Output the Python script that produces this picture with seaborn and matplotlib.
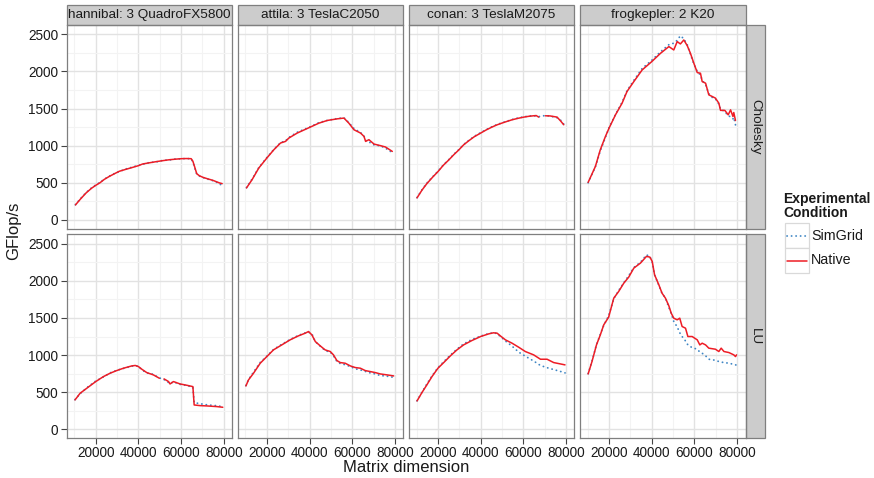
import numpy as np
import pandas as pd
import matplotlib
matplotlib.use("Agg")
import matplotlib.pyplot as plt
import seaborn as sns
from matplotlib.patches import Rectangle
from matplotlib.lines import Line2D

# -------- Data --------
machines = ["hannibal: 3 QuadroFX5800", "attila: 3 TeslaC2050",
            "conan: 3 TeslaM2075", "frogkepler: 2 K20"]
algos = ["Cholesky", "LU"]
conditions = ["SimGrid", "Native"]
x_ticks = [20000, 40000, 60000, 80000]
y_ticks = [0, 500, 1000, 1500, 2000, 2500]

# Cholesky
hannibal_chol_x = [10500, 13000, 15500, 18000, 20000, 22000, 24000, 26400, 29000, 31000, 34000, 37300,
                   40000, 42000, 45000, 48300, 51500, 54500, 57500, 60000, 62500, 64700, 65500, 66250,
                   67300, 68500, 70200, 72500, 74800, 78000, 79200]
hannibal_chol_native = [201, 285, 363, 425, 465, 500, 545, 586, 625, 654, 680, 707, 730, 753, 768, 784,
                        798, 810, 818, 824, 826, 824, 790, 721, 622, 595, 573, 552, 533, 497, 488]
hannibal_chol_simgrid = [205, 290, 368, 430, 470, 505, 548, 590, 628, 650, 685, 712, 735, 748, 772, 780,
                         802, 806, 821, 822, 828, 820, 780, 710, 615, 590, 570, 548, 528, 490, 450]

attila_chol_x = [10470, 13100, 16250, 20000, 23300, 26400, 28750, 30300, 34200, 40000, 44400, 48300,
                 53000, 56100, 58400, 60800, 63900, 65500, 66250, 67800, 70200, 73300, 75600, 78000,
                 78750]
attila_chol_native = [430, 542, 699, 833, 945, 1035, 1057, 1102, 1169, 1245, 1303, 1339, 1361, 1371,
                      1303, 1214, 1169, 1124, 1057, 1080, 1021, 999, 981, 936, 922]
attila_chol_simgrid = [435, 550, 705, 840, 950, 1040, 1065, 1110, 1180, 1250, 1310, 1340, 1365, 1375,
                       1310, 1230, 1175, 1130, 1070, 1050, 1010, 995, 965, 920, 905]

conan_chol_x = [10200, 12500, 14800, 17500, 20000, 22500, 25000, 27500, 29700, 32000, 34400, 37000,
                40000, 42500, 45300, 47500, 50000, 52500, 54700, 57500, 60200, 62500, 64800, 66000,
                67200, 68500, 70300, 72500, 75800, 77500, 78900]
conan_chol_native = [296, 400, 488, 575, 650, 735, 805, 880, 940, 1010, 1065, 1120, 1169, 1210, 1250,
                     1278, 1304, 1328, 1348, 1368, 1384, 1395, 1402, 1405, 1384, np.nan, 1402, 1400,
                     1384, 1330, 1281]
conan_chol_simgrid = [300, 405, 495, 580, 655, 740, 810, 885, 945, 1015, 1070, 1125, 1175, 1215, 1255,
                      1282, 1308, 1330, 1352, 1372, 1388, 1398, 1405, 1395, 1390, 1398, 1405, 1398,
                      1375, 1340, 1290]

frog_chol_x = [10200, 13600, 15900, 18300, 20000, 23000, 26100, 28400, 31600, 35500, 40000, 44100,
               48000, 50300, 51900, 53400, 55000, 56600, 58100, 59700, 61300, 62800, 63600, 65200,
               66700, 68300, 69800, 71400, 72200, 74200, 75800, 76900, 78000, 78400, 79200]
frog_chol_native = [505, 720, 945, 1124, 1236, 1415, 1572, 1729, 1863, 2020, 2132, 2244, 2334, 2289,
                    2401, 2370, 2423, 2347, 2244, 2110, 1984, 1975, 1863, 1841, 1684, 1662, 1640, 1572,
                    1475, 1475, 1415, 1482, 1393, 1446, 1338]
frog_chol_simgrid = [500, 715, 930, 1110, 1245, 1420, 1585, 1740, 1880, 2040, 2150, 2265, 2360, 2380,
                     2420, 2480, 2440, 2360, 2230, 2100, 2000, 1950, 1880, 1820, 1700, 1650, 1630, 1560,
                     1490, 1460, 1400, 1390, 1360, 1380, 1280]

# LU
hannibal_lu_x = [10300, 12700, 15800, 20000, 23600, 26700, 29800, 33000, 36900, 38500, 40000, 41600,
                 43900, 47000, 49800, 51000, 52000, 54100, 54800, 56400, 59500, 62700, 65500, 66100,
                 68900, 72000, 76700, 79500]
hannibal_lu_native = [396, 486, 553, 643, 710, 755, 791, 823, 854, 860, 845, 809, 764, 733, 688, np.nan,
                      679, 643, 611, 643, 611, 593, 575, 328, 319, 315, 306, 297]
hannibal_lu_simgrid = [400, 480, 560, 650, 705, 760, 795, 820, 850, 858, 850, 800, 760, 740, 690, 685,
                       670, 630, 615, 640, 605, 590, 565, 360, 345, 330, 318, 305]

attila_lu_x = [10200, 11400, 13750, 16900, 20000, 23100, 27000, 30900, 34800, 38000, 39500, 41100,
               42700, 45000, 47300, 49700, 51200, 52800, 54400, 56700, 59100, 61400, 63800, 66100,
               68400, 70800, 73100, 76300, 79400]
attila_lu_native = [584, 665, 755, 890, 980, 1070, 1137, 1205, 1259, 1295, 1317, 1272, 1182, 1124, 1070,
                    1048, 1003, 926, 899, 890, 854, 832, 823, 791, 778, 764, 746, 733, 719]
attila_lu_simgrid = [590, 670, 770, 900, 985, 1075, 1145, 1210, 1265, 1300, 1310, 1285, 1180, 1120, 1060,
                     1040, 990, 915, 885, 870, 845, 815, 800, 780, 760, 745, 725, 715, 700]

conan_lu_x = [10200, 12500, 14800, 17200, 20000, 22700, 25800, 28900, 32000, 35900, 40000, 43800,
              46000, 47700, 49200, 51600, 54700, 57800, 60900, 64800, 68000, 71100, 74200, 77300, 79500]
conan_lu_native = [382, 495, 598, 710, 823, 899, 989, 1070, 1137, 1196, 1250, 1286, 1300, 1295, 1259,
                   1205, 1160, 1106, 1048, 1003, 944, 944, 899, 881, 868]
conan_lu_simgrid = [385, 500, 610, 720, 830, 910, 1000, 1080, 1150, 1210, 1255, 1290, 1300, 1290, 1250,
                    1190, 1120, 1040, 985, 920, 860, 830, 805, 780, 760]

frog_lu_x = [10200, 12000, 14100, 15900, 17500, 19800, 22200, 24500, 26900, 29200, 31600, 34700, 37500,
             39100, 40200, 41300, 43300, 44800, 46400, 48000, 49100, 50300, 51900, 53100, 54200, 55800,
             56900, 58900, 61300, 62500, 63600, 65200, 66700, 69800, 71400, 72500, 73800, 76100, 78400,
             79200, 79700]
frog_lu_native = [746, 913, 1137, 1272, 1407, 1511, 1767, 1857, 1969, 2050, 2172, 2239, 2329, 2320, 2262,
                  2082, 1947, 1834, 1767, 1663, 1565, 1497, 1475, 1497, 1385, 1362, 1250, 1250, 1205, 1137,
                  1160, 1137, 1093, 1079, 1048, 1093, 1048, 1034, 1003, 980, 1003]
frog_lu_simgrid = [750, 920, 1140, 1280, 1400, 1530, 1760, 1870, 1975, 2070, 2180, 2250, 2350, 2330, 2250,
                   2080, 1940, 1830, 1770, 1640, 1560, 1452, 1380, 1300, 1250, 1190, 1137, 1100, 1079, 1040,
                   1025, 990, 944, 930, 913, 905, 900, 890, 875, 868, 865]

curves = {
    (machines[0], "Cholesky"): (hannibal_chol_x, hannibal_chol_simgrid, hannibal_chol_native),
    (machines[1], "Cholesky"): (attila_chol_x, attila_chol_simgrid, attila_chol_native),
    (machines[2], "Cholesky"): (conan_chol_x, conan_chol_simgrid, conan_chol_native),
    (machines[3], "Cholesky"): (frog_chol_x, frog_chol_simgrid, frog_chol_native),
    (machines[0], "LU"): (hannibal_lu_x, hannibal_lu_simgrid, hannibal_lu_native),
    (machines[1], "LU"): (attila_lu_x, attila_lu_simgrid, attila_lu_native),
    (machines[2], "LU"): (conan_lu_x, conan_lu_simgrid, conan_lu_native),
    (machines[3], "LU"): (frog_lu_x, frog_lu_simgrid, frog_lu_native),
}

frames = []
for (mach, algo), (xs, sim, nat) in curves.items():
    for cond, ys in zip(conditions, [sim, nat]):
        frames.append(pd.DataFrame({"machine": mach, "algo": algo, "condition": cond,
                                    "size": xs, "gflops": ys}))
df = pd.concat(frames, ignore_index=True)

# -------- Style --------
sns.set_style("white")
plt.rcParams["font.family"] = ["Liberation Sans", "DejaVu Sans"]

colors = {"SimGrid": "#3f86c4", "Native": "#ee1c25"}
styles = {"SimGrid": dict(ls=(0, (0.1, 2.4)), lw=1.3, dash_capstyle="round"),
          "Native": dict(ls="-", lw=1.1)}
border = "#7f7f7f"
strip_fill = "#cccccc"
txt = "#1a1a1a"


def draw(data, **kws):
    # SimGrid first, Native on top (ggplot group order)
    ax = plt.gca()
    for k, cond in enumerate(conditions):
        sub = data[data["condition"] == cond]
        ax.plot(sub["size"], sub["gflops"], color=colors[cond], **styles[cond], zorder=3 + k)


g = sns.FacetGrid(df, row="algo", col="machine", row_order=algos, col_order=machines,
                  sharex=True, sharey=True, despine=False, height=2, aspect=0.8)
g.map_dataframe(draw)
g.set_titles(template="", row_template="", col_template="")
g.set_axis_labels("", "")

fig = g.figure
fig.set_size_inches(8.74, 4.78)
fig.subplots_adjust(left=0.0763, right=0.853, top=0.9477, bottom=0.0837,
                    wspace=0.034, hspace=0.029)

for i, algo in enumerate(algos):
    for j, mach in enumerate(machines):
        ax = g.axes[i, j]
        ax.set_xlim(6400, 83900)
        ax.set_ylim(-117, 2625)
        ax.set_xticks(x_ticks)
        ax.set_yticks(y_ticks)
        ax.set_xticks([10000, 30000, 50000, 70000], minor=True)
        ax.set_yticks([250, 750, 1250, 1750, 2250], minor=True)
        ax.set_axisbelow(True)
        ax.grid(which="major", color="#e2e2e2", lw=1.0)
        ax.grid(which="minor", color="#f3f3f3", lw=0.8)
        ax.tick_params(which="minor", length=0)
        ax.tick_params(which="major", labelsize=9.8, labelcolor=txt, color="#444444",
                       length=4, width=0.8, pad=2)
        for sp in ax.spines.values():
            sp.set_color(border)
            sp.set_linewidth(0.9)
        ax.tick_params(axis="x", bottom=(i == len(algos) - 1))
        ax.tick_params(axis="y", left=(j == 0))

        # column strips
        if i == 0:
            ax.add_patch(Rectangle((0, 1), 1, 0.097, transform=ax.transAxes, clip_on=False,
                                   facecolor=strip_fill, edgecolor=border, lw=0.9))
            ax.text(0.5, 1.0485, mach, transform=ax.transAxes, ha="center", va="center",
                    fontsize=9.7, color=txt)
        # row strips
        if j == len(machines) - 1:
            ax.add_patch(Rectangle((1, 0), 0.117, 1, transform=ax.transAxes, clip_on=False,
                                   facecolor=strip_fill, edgecolor=border, lw=0.9))
            ax.text(1.0585, 0.5, algo, transform=ax.transAxes, ha="center", va="center",
                    rotation=-90, fontsize=9.7, color=txt)

fig.text(0.4645, 0.022, "Matrix dimension", ha="center", va="center", fontsize=12, color=txt)
fig.text(0.016, 0.517, "GFlop/s", ha="center", va="center", rotation=90, fontsize=12, color=txt)

# -------- Legend --------
fig.text(783 / 874, 1 - 192 / 478, "Experimental\nCondition", ha="left", va="top",
         fontsize=10, fontweight="bold", color=txt, linespacing=1.0)
for k, cond in enumerate(conditions):
    top = 223 + k * 25
    fig.add_artist(Rectangle((785 / 874, 1 - (top + 25) / 478), 24 / 874, 25 / 478,
                             transform=fig.transFigure, facecolor="white",
                             edgecolor="#d9d9d9", lw=0.9))
    yc = 1 - (top + 12.5) / 478
    fig.add_artist(Line2D([787 / 874, 807 / 874], [yc, yc], transform=fig.transFigure,
                          color=colors[cond], **styles[cond]))
    fig.text(811 / 874, yc, cond, ha="left", va="center", fontsize=10.3, color=txt)

fig.savefig("out.png", dpi=100)
